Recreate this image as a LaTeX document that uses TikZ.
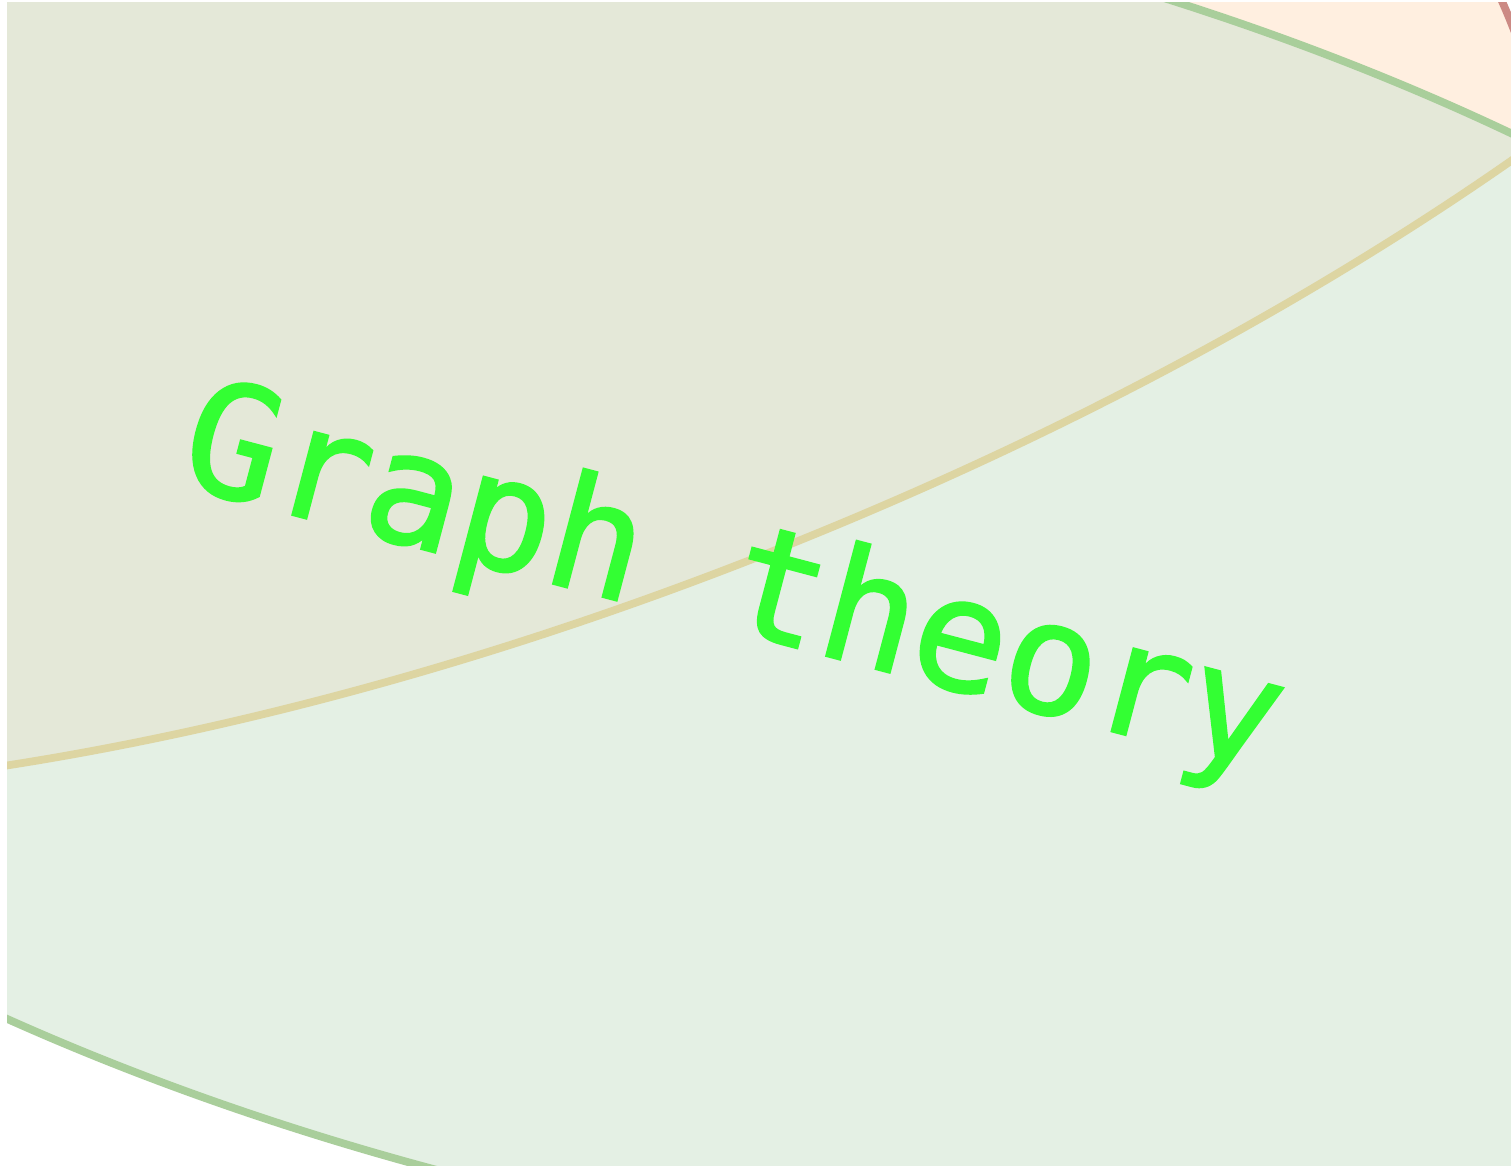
\documentclass[tikz,border=0pt]{standalone}
\usepackage{fontspec}
\newfontfamily\setmono[FakeBold=1.5]{DejaVu Sans Mono}
\definecolor{setgreen}{HTML}{A9CE9B}
\definecolor{setgreenfill}{HTML}{E4F0E4}
\definecolor{setbothfill}{HTML}{E4E8D8}
\definecolor{setyellow}{HTML}{DDD5A2}
\definecolor{setorangefill}{HTML}{FFEFE0}
\definecolor{setred}{HTML}{CC8A84}
\definecolor{labelgreen}{HTML}{33FF33}
\tikzset{
  setline/.style={line width=4.4pt},
  greenset/.style={setline,draw=setgreen},
  yellowset/.style={setline,draw=setyellow},
  orangeset/.style={setline,draw=setred,fill=setorangefill},
  setlabel/.style={text=labelgreen,inner sep=0pt,anchor=base,
                   font=\setmono\fontsize{89}{89}\selectfont},
}

\begin{document}
\begin{tikzpicture}[x=0.2mm,y=0.2mm]
  \useasboundingbox (0,0) rectangle (1511,1166);
  \fill[white] (0,0) rectangle (1511,1166);

  \begin{scope}
    \clip (7,0) rectangle (1511,1163);
    % ---- orange set (top right) ----
    \draw[orangeset] (954,920) circle [radius=600];

    % ---- green set ----
    \fill[setgreenfill,rotate around={-12:(735,601)}]
      (735,601) ellipse [x radius=1448,y radius=658];

    % overlap of green and yellow
    \begin{scope}
      \clip[rotate around={-12:(735,601)}]
        (735,601) ellipse [x radius=1448,y radius=658];
      \fill[setbothfill,rotate around={22:(547,1244)}]
        (547,1244) ellipse [x radius=1643,y radius=668];
    \end{scope}

    % ---- set borders ----
    \draw[yellowset,rotate around={22:(547,1244)}]
      (547,1244) ellipse [x radius=1643,y radius=668];
    \draw[greenset,rotate around={-12:(735,601)}]
      (735,601) ellipse [x radius=1448,y radius=658];
  \end{scope}

  \node[setlabel,rotate=-14.8] (graphtheory) at (721,538) {Graph theory};
\end{tikzpicture}
\end{document}
